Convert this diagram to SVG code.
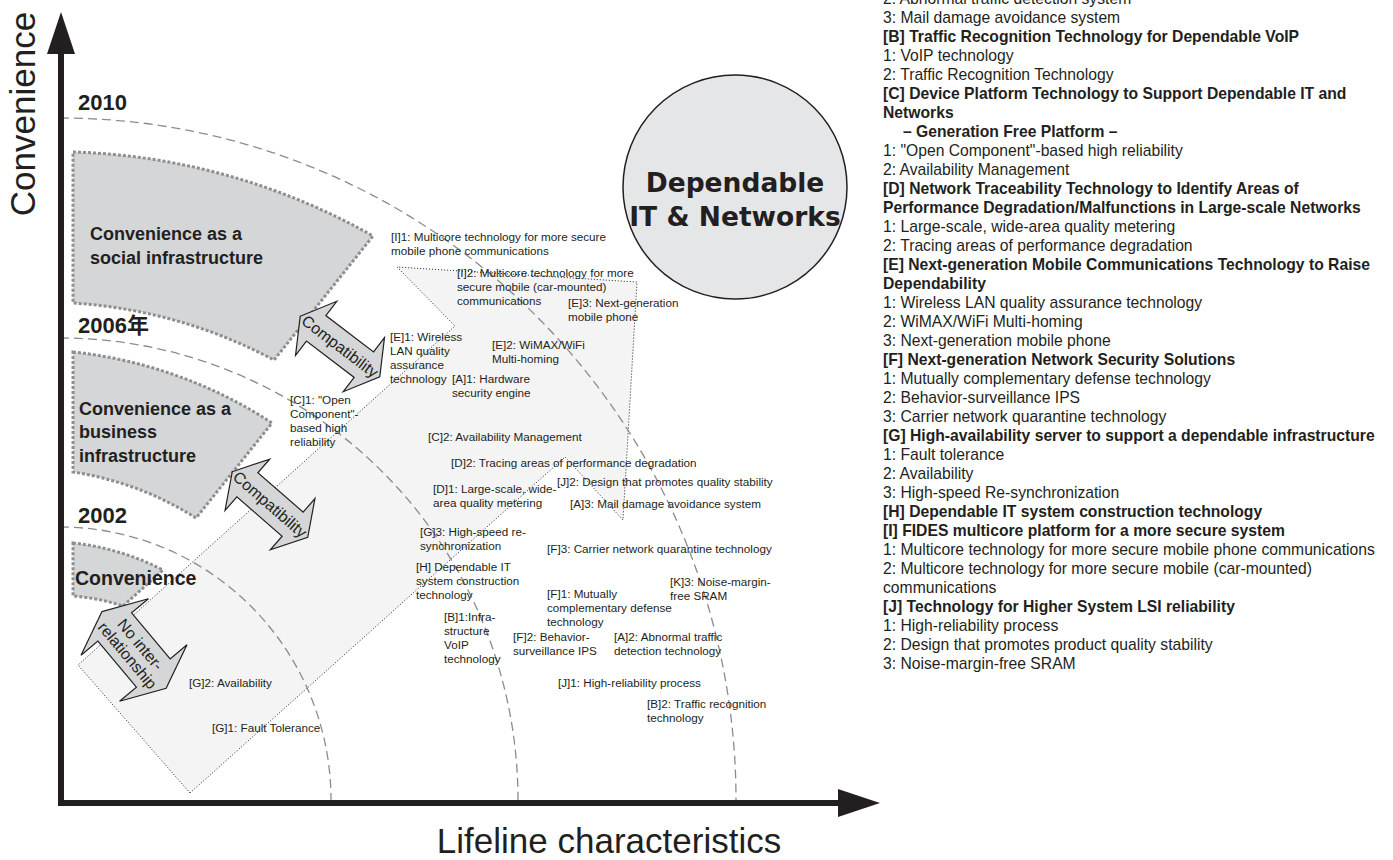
<svg xmlns="http://www.w3.org/2000/svg" width="1393" height="860" viewBox="0 0 1393 860">
<style>
text{font-family:"Liberation Sans",Arial,"Noto Sans CJK JP",sans-serif;fill:#231f20}
.lbl{font-size:11.7px}
.leg{font-size:15.7px}
.b{font-weight:bold}
.yr{font-size:22px;font-weight:bold}
.sec{fill:#d5d6d8;stroke:#8f8f8f;stroke-width:3;stroke-dasharray:3 2}
.sl{font-size:18px;font-weight:bold}
.arc{fill:none;stroke:#8c8c8c;stroke-width:1.3;stroke-dasharray:9 5}
.dbl{fill:#d5d6d8;stroke:#231f20;stroke-width:1.2}
.at{font-size:16px;text-anchor:middle}
.axis{stroke:#231f20;stroke-width:6;fill:none}
</style>
<defs>
<path id="dblarrow" d="M-50,0 L-30,-34 L-30,-16 L30,-16 L30,-34 L50,0 L30,34 L30,16 L-30,16 L-30,34 Z"/>
</defs>

<g id="band">
<polygon points="190,793 78,665 455,326 397,267 637,282 623,520 565,457" fill="#f4f4f4" stroke="#231f20" stroke-width="1" stroke-dasharray="1 2"/>
</g>

<g id="year-arcs">
<path class="arc" d="M60,118 A676,682 0 0,1 736,800"/>
<path class="arc" d="M60,338 A458,462 0 0,1 518,800"/>
<path class="arc" d="M60,527 A271,273 0 0,1 331,800"/>
</g>

<g id="axes">
<line class="axis" x1="61" y1="806" x2="61" y2="50"/>
<polygon points="61,12 47,54 75,54" fill="#231f20"/>
<line class="axis" x1="58" y1="803" x2="842" y2="803"/>
<polygon points="880,803 838,789 838,817" fill="#231f20"/>
<text x="0" y="0" font-size="35" transform="translate(35,114) rotate(-90)" text-anchor="middle">Convenience</text>
<text x="609" y="853" font-size="35" text-anchor="middle">Lifeline characteristics</text>
</g>

<g id="years">
<text class="yr" x="78" y="110">2010</text>
<text class="yr" x="78" y="333">2006年</text>
<text class="yr" x="78" y="523">2002</text>
</g>

<g id="sector-social">
<path class="sec" d="M73,152 A647,647 0 0,1 373,236 L274,360 A495,495 0 0,0 73,303 Z"/>
<text class="sl" x="90" y="240">Convenience as a</text>
<text class="sl" x="90" y="264">social infrastructure</text>
</g>
<g id="sector-business">
<path class="sec" d="M73,352 A450,450 0 0,1 272,423 L196,518 A320,320 0 0,0 73,472 Z"/>
<text class="sl" x="79" y="415">Convenience as a</text>
<text class="sl" x="79" y="438">business</text>
<text class="sl" x="79" y="462">infrastructure</text>
</g>
<g id="sector-convenience">
<path class="sec" d="M73,543 A257,257 0 0,1 163,570 L123,606 A210,210 0 0,0 73,596 Z"/>
<text class="sl" x="75" y="585" style="font-size:19.5px">Convenience</text>
</g>

<g id="dependable-circle">
<circle cx="735" cy="187" r="112" fill="#e5e6e8" stroke="#231f20" stroke-width="1.5"/>
<text x="735" y="192" font-weight="bold" font-size="26.5" text-anchor="middle" style="font-family:'DejaVu Sans',sans-serif">Dependable</text>
<text x="735" y="226" font-weight="bold" font-size="26.5" text-anchor="middle" style="font-family:'DejaVu Sans',sans-serif">IT &amp; Networks</text>
</g>

<g id="connectors">
<g id="compat-upper" transform="translate(340,346.5) rotate(37.3)">
<use href="#dblarrow" class="dbl"/>
<text class="at" x="0" y="5.5">Compatibility</text>
</g>
<g id="compat-lower" transform="translate(270,504.5) rotate(41)">
<use href="#dblarrow" class="dbl"/>
<text class="at" x="0" y="5.5">Compatibility</text>
</g>
<g id="no-interrelationship" transform="translate(134,650) rotate(50)">
<path class="dbl" d="M-50,0 L-30,-44 L-30,-22 L30,-22 L30,-44 L50,0 L30,44 L30,22 L-30,22 L-30,44 Z"/>
<text class="at" x="0" y="-3">No inter-</text>
<text class="at" x="0" y="14">relationship</text>
</g>
</g>

<g id="tech-labels" class="lbl">
<g id="I1"><text class="lbl" x="391" y="241">[I]1: Multicore technology for more secure</text><text class="lbl" x="391" y="255">mobile phone communications</text></g>
<g id="I2"><text class="lbl" x="457" y="277">[I]2: Multicore technology for more</text><text class="lbl" x="457" y="291">secure mobile (car-mounted)</text><text class="lbl" x="457" y="305">communications</text></g>
<g id="E3"><text class="lbl" x="568" y="307">[E]3: Next-generation</text><text class="lbl" x="568" y="321">mobile phone</text></g>
<g id="E1"><text class="lbl" x="390" y="341">[E]1: Wireless</text><text class="lbl" x="390" y="355">LAN quality</text><text class="lbl" x="390" y="369">assurance</text><text class="lbl" x="390" y="383">technology</text></g>
<g id="E2"><text class="lbl" x="492" y="349">[E]2: WiMAX/WiFi</text><text class="lbl" x="492" y="363">Multi-homing</text></g>
<g id="A1"><text class="lbl" x="452" y="383">[A]1: Hardware</text><text class="lbl" x="452" y="397">security engine</text></g>
<g id="C1"><text class="lbl" x="290" y="404">[C]1: "Open</text><text class="lbl" x="290" y="418">Component"-</text><text class="lbl" x="290" y="432">based high</text><text class="lbl" x="290" y="446">reliability</text></g>
<g id="C2"><text class="lbl" x="428" y="441">[C]2: Availability Management</text></g>
<g id="D2"><text class="lbl" x="451" y="467">[D]2: Tracing areas of performance degradation</text></g>
<g id="J2"><text class="lbl" x="557" y="486">[J]2: Design that promotes quality stability</text></g>
<g id="D1"><text class="lbl" x="433" y="493">[D]1: Large-scale, wide-</text><text class="lbl" x="433" y="507">area quality metering</text></g>
<g id="A3"><text class="lbl" x="570" y="508">[A]3: Mail damage avoidance system</text></g>
<g id="G3"><text class="lbl" x="420" y="536">[G]3: High-speed re-</text><text class="lbl" x="420" y="550">synchronization</text></g>
<g id="F3"><text class="lbl" x="547" y="553">[F]3: Carrier network quarantine technology</text></g>
<g id="H"><text class="lbl" x="416" y="571">[H] Dependable IT</text><text class="lbl" x="416" y="585">system construction</text><text class="lbl" x="416" y="599">technology</text></g>
<g id="K3"><text class="lbl" x="670" y="586">[K]3: Noise-margin-</text><text class="lbl" x="670" y="600">free SRAM</text></g>
<g id="F1"><text class="lbl" x="547" y="598">[F]1: Mutually</text><text class="lbl" x="547" y="612">complementary defense</text><text class="lbl" x="547" y="626">technology</text></g>
<g id="B1"><text class="lbl" x="444" y="621">[B]1:Infra-</text><text class="lbl" x="444" y="635">structure</text><text class="lbl" x="444" y="649">VoIP</text><text class="lbl" x="444" y="663">technology</text></g>
<g id="F2"><text class="lbl" x="513" y="641">[F]2: Behavior-</text><text class="lbl" x="513" y="655">surveillance IPS</text></g>
<g id="A2"><text class="lbl" x="614" y="641">[A]2: Abnormal traffic</text><text class="lbl" x="614" y="655">detection technology</text></g>
<g id="J1"><text class="lbl" x="558" y="687">[J]1: High-reliability process</text></g>
<g id="B2"><text class="lbl" x="647" y="708">[B]2: Traffic recognition</text><text class="lbl" x="647" y="722">technology</text></g>
<g id="G2"><text class="lbl" x="189" y="687">[G]2: Availability</text></g>
<g id="G1"><text class="lbl" x="212" y="732">[G]1: Fault Tolerance</text></g>
</g>

<g id="legend" class="leg">
<text class="leg" x="883" y="4">2: Abnormal traffic detection system</text>
<text class="leg" x="883" y="23">3: Mail damage avoidance system</text>
<text class="leg b" x="883" y="42">[B] Traffic Recognition Technology for Dependable VoIP</text>
<text class="leg" x="883" y="61">1: VoIP technology</text>
<text class="leg" x="883" y="80">2: Traffic Recognition Technology</text>
<text class="leg b" x="883" y="99">[C] Device Platform Technology to Support Dependable IT and</text>
<text class="leg b" x="883" y="118">Networks</text>
<text class="leg b" x="903" y="137">– Generation Free Platform –</text>
<text class="leg" x="883" y="156">1: "Open Component"-based high reliability</text>
<text class="leg" x="883" y="175">2: Availability Management</text>
<text class="leg b" x="883" y="194">[D] Network Traceability Technology to Identify Areas of</text>
<text class="leg b" x="883" y="213">Performance Degradation/Malfunctions in Large-scale Networks</text>
<text class="leg" x="883" y="232">1: Large-scale, wide-area quality metering</text>
<text class="leg" x="883" y="251">2: Tracing areas of performance degradation</text>
<text class="leg b" x="883" y="270">[E] Next-generation Mobile Communications Technology to Raise</text>
<text class="leg b" x="883" y="289">Dependability</text>
<text class="leg" x="883" y="308">1: Wireless LAN quality assurance technology</text>
<text class="leg" x="883" y="327">2: WiMAX/WiFi Multi-homing</text>
<text class="leg" x="883" y="346">3: Next-generation mobile phone</text>
<text class="leg b" x="883" y="365">[F] Next-generation Network Security Solutions</text>
<text class="leg" x="883" y="384">1: Mutually complementary defense technology</text>
<text class="leg" x="883" y="403">2: Behavior-surveillance IPS</text>
<text class="leg" x="883" y="422">3: Carrier network quarantine technology</text>
<text class="leg b" x="883" y="441">[G] High-availability server to support a dependable infrastructure</text>
<text class="leg" x="883" y="460">1: Fault tolerance</text>
<text class="leg" x="883" y="479">2: Availability</text>
<text class="leg" x="883" y="498">3: High-speed Re-synchronization</text>
<text class="leg b" x="883" y="517">[H] Dependable IT system construction technology</text>
<text class="leg b" x="883" y="536">[I] FIDES multicore platform for a more secure system</text>
<text class="leg" x="883" y="555">1: Multicore technology for more secure mobile phone communications</text>
<text class="leg" x="883" y="574">2: Multicore technology for more secure mobile (car-mounted)</text>
<text class="leg" x="883" y="593">communications</text>
<text class="leg b" x="883" y="612">[J] Technology for Higher System LSI reliability</text>
<text class="leg" x="883" y="631">1: High-reliability process</text>
<text class="leg" x="883" y="650">2: Design that promotes product quality stability</text>
<text class="leg" x="883" y="669">3: Noise-margin-free SRAM</text>
</g>
</svg>
